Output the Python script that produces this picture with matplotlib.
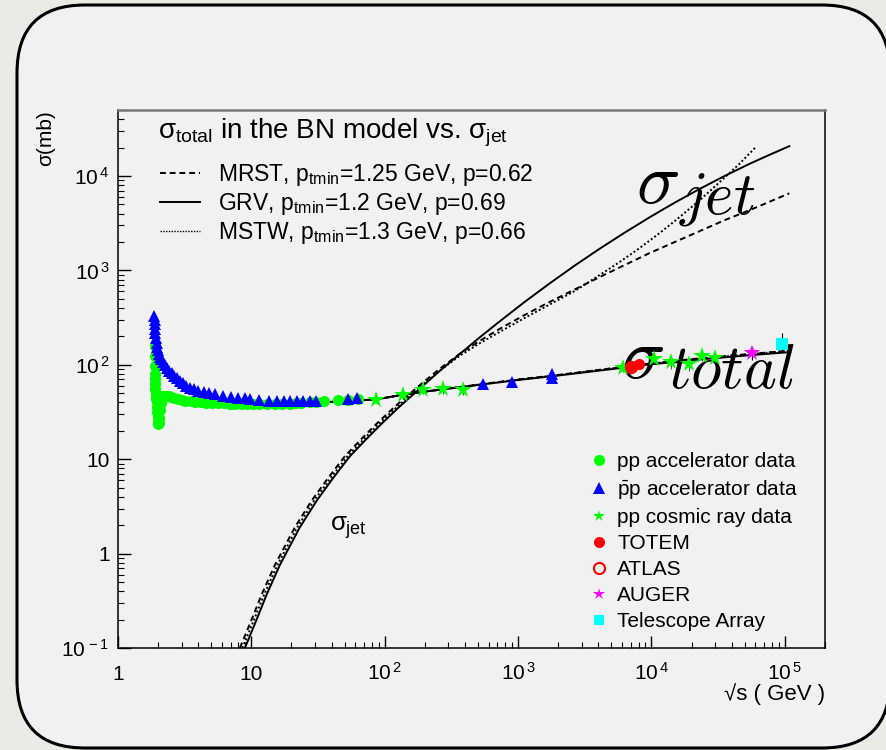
import numpy as np
import matplotlib.pyplot as plt
import matplotlib.patches as mpatches
from matplotlib.lines import Line2D
from matplotlib.transforms import IdentityTransform

plt.rcParams['font.family'] = ['Liberation Sans', 'DejaVu Sans']
plt.rcParams['mathtext.fontset'] = 'custom'
plt.rcParams['mathtext.rm'] = 'Liberation Sans'
plt.rcParams['mathtext.it'] = 'Liberation Sans'
plt.rcParams['mathtext.sf'] = 'Liberation Sans'
plt.rcParams['mathtext.bf'] = 'Liberation Sans:bold'

# ---- BN model: total cross section (mb) vs sqrt(s) (GeV)
tot_rs = [30, 50, 86, 129, 200, 273, 542, 1000, 2000, 6100, 8000, 2e4, 5.7e4, 1e5, 1.1e5]
tot_grv = [40, 41, 43, 47.5, 52, 55, 62, 69, 77, 93, 98, 112, 127, 135, 137]
tot_mrst = [40, 41, 43, 47.5, 52, 55, 62.5, 70, 78, 95, 100, 115, 131, 140, 142]
tot_mstw = [40, 41, 43, 47.5, 52, 55, 62.5, 69.5, 78, 94.5, 99.5, 114, 130, 139, 141]

# ---- minijet cross sections (mb)
jet_grv_rs = [8.94, 9.75, 11.0, 13.06, 16.34, 23.1, 31.0, 40.8, 54.7, 73.3, 96.6, 129,
              183, 258, 365, 515, 727, 1118, 1722, 2650, 4080, 6280, 9660, 14860, 22900,
              35200, 54200, 76600, 108000]
jet_grv = [0.100, 0.134, 0.203, 0.372, 0.755, 1.90, 3.66, 6.25, 10.7, 16.5, 24.4, 36.0,
           55.9, 86.0, 130, 195, 288, 463, 727, 1122, 1694, 2506, 3646, 5200, 7278,
           9977, 13430, 16750, 20700]
jet_mrst_rs = [8.20, 8.94, 10.09, 11.99, 15.0, 21.2, 28.4, 37.4, 50.1, 67.2, 88.6, 119,
               183, 258, 365, 515, 727, 1118, 1722, 2650, 4080, 6280, 9660, 14860, 22900,
               35200, 54200, 76600, 108000]
jet_mrst = [0.100, 0.134, 0.203, 0.372, 0.755, 1.90, 3.66, 6.25, 10.7, 16.5, 24.4, 36.0,
            60.8, 90.7, 130.7, 179, 240, 337, 463, 627, 849, 1138, 1524, 1991, 2600,
            3398, 4335, 5333, 6550]
jet_mstw_rs = [8.56, 9.33, 10.53, 12.51, 15.66, 22.1, 29.6, 39.1, 52.4, 70.2, 92.5, 124,
               183, 258, 365, 515, 727, 1118, 1722, 2650, 4080, 5750, 8130, 11480, 16200,
               22900, 32300, 45600, 60100]
jet_mstw = [0.100, 0.134, 0.203, 0.372, 0.755, 1.90, 3.66, 6.25, 10.7, 16.5, 24.4, 36.0,
            57.9, 86.4, 124.5, 169, 223, 313, 435, 604, 891, 1223, 1719, 2479, 3656,
            5521, 8552, 13430, 20050]

# ---- pp accelerator data
pp_rs = [1.88, 1.885, 1.89, 1.895, 1.9, 1.905, 1.91, 1.92, 1.93, 1.94, 1.95, 1.96, 1.97,
         1.98, 1.99, 2.0, 2.02, 2.04, 2.07, 2.1, 2.14, 2.18, 2.23, 2.3, 2.4, 2.5, 2.65,
         2.8, 3.0, 3.2, 3.5, 3.8, 4.2, 4.6, 5.1, 5.6, 6.2, 6.9, 7.6, 8.4, 9.3, 10.3, 11.5,
         13, 15, 17, 19.4, 21.7, 23.5, 27.4, 30.6, 35, 44.7, 52.8, 62.7]
pp_sig = [160, 125, 96, 80, 70, 62, 55, 50, 46, 43, 40, 36, 32, 28, 25, 23.5, 24, 27, 33,
          39, 44, 46.5, 47, 47, 46.5, 45.5, 44.5, 43.5, 42.5, 41.5, 41, 40.5, 40, 39.7,
          39.5, 39.2, 39, 38.8, 38.6, 38.5, 38.3, 38.2, 38.2, 38.3, 38.5, 38.7, 38.9,
          39.2, 39.3, 40, 40.5, 41, 42, 42.5, 43.5]

# ---- pbar-p accelerator data
pbp_rs = [1.87, 1.88, 1.89, 1.9, 1.91, 1.93, 1.95, 1.97, 2.0, 2.03, 2.07, 2.12, 2.18,
          2.25, 2.33, 2.42, 2.52, 2.62, 2.75, 2.9, 3.05, 3.25, 3.46, 3.7, 4.0, 4.4, 4.8,
          5.3, 6.1, 7.0, 8.0, 9.0, 9.8, 11.5, 13.5, 15.5, 17.5, 19.5, 22, 24.5, 27.5,
          30.4, 52.6, 62.3, 546, 900, 1800, 1800]
pbp_sig = [330, 300, 270, 240, 215, 190, 170, 155, 142, 130, 122, 114, 108, 100, 93, 87,
           82, 77, 72, 68, 64, 60, 57, 55, 53, 51, 50, 48.5, 47, 46, 45, 44.2, 43.5, 42.5,
           41.8, 41.3, 41, 41, 41, 41, 41.3, 41.7, 43.4, 44.5, 62.5, 65, 72, 80]

# ---- pp cosmic ray data
cr_rs = [86, 137, 194, 273, 386, 6100, 1.05e4, 1.4e4, 1.9e4, 2.4e4, 3.0e4]
cr_sig = [42.7, 48, 54, 55.4, 54, 93.5, 115, 106, 101.6, 124, 119.5]
cr_err = [3, 4, 5, 6, 6, 10, 12, 15, 15, 14, 14]

totem_rs = [7000, 8000]
totem_sig = [98.3, 101.7]
atlas_rs = [7000]
atlas_sig = [95.35]
auger_rs = [5.7e4]
auger_sig = [133]
auger_err = [[20], [22]]
ta_rs = [9.5e4]
ta_sig = [168]
ta_err = [[30], [50]]

x_ticks = [1, 10, 1e2, 1e3, 1e4, 1e5]
x_labels = ['1', '10', r'$10^{\,2}$', r'$10^{\,3}$', r'$10^{\,4}$', r'$10^{\,5}$']
y_ticks = [0.1, 1, 10, 1e2, 1e3, 1e4]
y_labels = [r'$10^{\,-1}$', '1', '10', r'$10^{\,2}$', r'$10^{\,3}$', r'$10^{\,4}$']

fig = plt.figure(figsize=(8.87, 7.5), dpi=100, facecolor='#ebebe5')
panel = mpatches.FancyBboxPatch((17, 2), 873, 743,
                                boxstyle='round,pad=0,rounding_size=68',
                                transform=IdentityTransform(), fc='#f1f1f1',
                                ec='black', lw=2.2, zorder=-5)
fig.patches.append(panel)

ax = fig.add_axes([0.1330, 0.136, 0.7971, 0.7173])
ax.set_facecolor('#f1f1f1')
ax.set_xscale('log')
ax.set_yscale('log')
ax.set_xlim(1, 2e5)
ax.set_ylim(0.1, 5e4)

# big LaTeX-style annotations sit underneath the data
ax.text(7600, 5140, r'$\sigma$', math_fontfamily='cm', fontsize=52, zorder=1)
ax.text(1.62e4, 4030, r'$jet$', math_fontfamily='cm', fontsize=44, zorder=1)
ax.text(5960, 73, r'$\sigma$', math_fontfamily='cm', fontsize=52, zorder=1)
ax.text(1.32e4, 57, r'$total$', math_fontfamily='cm', fontsize=45, zorder=1)
ax.text(38.7, 1.75, r'$\sigma_{\rm jet}$', fontsize=18.5, zorder=1)

lw = 1.4
ax.plot(tot_rs, tot_mrst, color='black', lw=lw, ls=(0, (3, 2)), zorder=2)
ax.plot(tot_rs, tot_grv, color='black', lw=lw, ls='-', zorder=2)
ax.plot(tot_rs, tot_mstw, color='black', lw=lw, ls=(0, (1, 1.2)), zorder=2)
ax.plot(jet_mrst_rs, jet_mrst, color='black', lw=lw, ls=(0, (3, 2)), zorder=2)
ax.plot(jet_grv_rs, jet_grv, color='black', lw=lw, ls='-', zorder=2)
ax.plot(jet_mstw_rs, jet_mstw, color='black', lw=lw, ls=(0, (1, 1.2)), zorder=2)

ax.plot(pp_rs, pp_sig, 'o', color='#00ff00', ms=8, mew=0, zorder=3)
ax.plot(pbp_rs, pbp_sig, '^', color='#0000ff', ms=8.5, mew=0, zorder=4)
ax.errorbar(cr_rs, cr_sig, yerr=cr_err, fmt='*', color='#00ff00', ms=13, mew=0,
            ecolor='#555555', elinewidth=0.8, zorder=4)
ax.plot(totem_rs, totem_sig, 'o', color='#ff0000', ms=8, mew=0, zorder=5)
ax.plot(atlas_rs, atlas_sig, 'o', mfc='none', mec='#ff0000', ms=8, mew=1.5, zorder=5)
ax.errorbar(auger_rs, auger_sig, yerr=auger_err, fmt='*', color='#ff00ff', ms=12,
            mew=0, ecolor='black', elinewidth=0.8, zorder=5)
ax.errorbar(ta_rs, ta_sig, yerr=ta_err, fmt='s', color='#00ffff', ms=8, mew=0,
            ecolor='black', elinewidth=0.8, zorder=5)

# ROOT-like frame and ticks
ax.set_xticks(x_ticks)
ax.set_xticklabels(x_labels, fontsize=15)
ax.set_yticks(y_ticks)
ax.set_yticklabels(y_labels, fontsize=15)
ax.tick_params(which='both', direction='in', top=False, right=False)
ax.tick_params(which='major', length=9, width=1)
ax.tick_params(which='minor', length=4.5, width=0.8)
ax.tick_params(axis='x', pad=23)
ax.tick_params(axis='y', pad=6)
plt.setp(ax.get_xticklabels(), va='baseline')
ax.spines['top'].set_color('#777777')
ax.spines['top'].set_linewidth(1.8)
for s in ['left', 'bottom', 'right']:
    ax.spines[s].set_linewidth(1.1)

ax.set_ylabel('σ(mb)', fontsize=15, loc='top')
ax.yaxis.set_label_coords(-0.089, 1.0)
ax.set_xlabel('√s ( GeV )', fontsize=16, loc='right')
ax.xaxis.set_label_coords(1.0, -0.065)

ax.text(0.057, 0.957, r'$\sigma_{\rm total}$ in the BN model vs. $\sigma_{\rm jet}$',
        transform=ax.transAxes, fontsize=20, va='center')

line_handles = [Line2D([], [], color='black', lw=lw, ls=(0, (3, 2))),
                Line2D([], [], color='black', lw=lw, ls='-'),
                Line2D([], [], color='black', lw=1.0, ls=(0, (1, 1)))]
line_labels = [r'MRST, p$_{\rm tmin}$=1.25 GeV, p=0.62',
               r'GRV, p$_{\rm tmin}$=1.2 GeV, p=0.69',
               r'MSTW, p$_{\rm tmin}$=1.3 GeV, p=0.66']
leg1 = ax.legend(line_handles, line_labels, loc='upper left',
                 bbox_to_anchor=(0.0594, 0.903), frameon=False, fontsize=16.5,
                 handlelength=1.75, handletextpad=0.79, borderpad=0,
                 borderaxespad=0, labelspacing=0.12)
ax.add_artist(leg1)

mk_handles = [Line2D([], [], ls='', marker='o', color='#00ff00', ms=8, mew=0),
              Line2D([], [], ls='', marker='^', color='#0000ff', ms=8, mew=0),
              Line2D([], [], ls='', marker='*', color='#00ff00', ms=9, mew=0),
              Line2D([], [], ls='', marker='o', color='#ff0000', ms=8, mew=0),
              Line2D([], [], ls='', marker='o', mfc='none', mec='#ff0000', ms=8, mew=1.5),
              Line2D([], [], ls='', marker='*', color='#ff00ff', ms=9, mew=0),
              Line2D([], [], ls='', marker='s', color='#00ffff', ms=7, mew=0)]
mk_labels = ['pp accelerator data', r'$\bar{\rm p}$p accelerator data',
             'pp cosmic ray data', 'TOTEM', 'ATLAS', 'AUGER', 'Telescope Array']
ax.legend(mk_handles, mk_labels, loc='upper left', bbox_to_anchor=(0.665, 0.3644),
          frameon=False, fontsize=15, handlelength=1.0, handletextpad=0.39,
          borderpad=0, borderaxespad=0, labelspacing=0.34)

fig.savefig('out.png', dpi=100, facecolor=fig.get_facecolor())
